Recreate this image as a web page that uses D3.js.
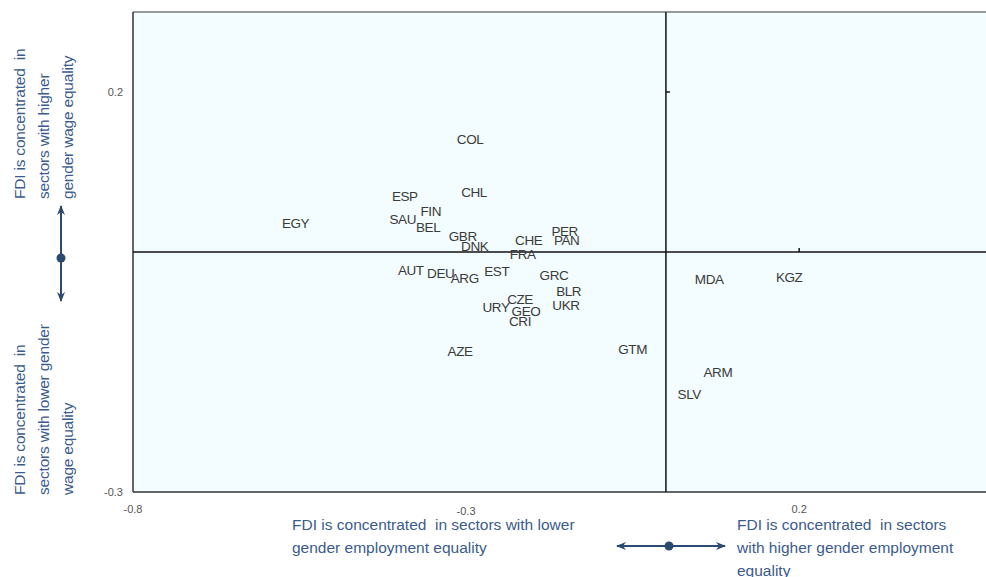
<!DOCTYPE html>
<html><head><meta charset="utf-8">
<script src="https://cdn.jsdelivr.net/npm/d3@7/dist/d3.min.js"></script>
<style>body{margin:0;background:#fff}svg{display:block}text{white-space:pre}</style>
</head><body>
<svg id="c" width="986" height="577"></svg>
<script>
const countries = ["COL","ESP","CHL","FIN","SAU","BEL","EGY","GBR","DNK","CHE","FRA","PER","PAN","AUT","DEU","ARG","EST","GRC","BLR","UKR","CZE","URY","GEO","CRI","AZE","GTM","MDA","KGZ","ARM","SLV"];
const employment = [-0.294,-0.392,-0.288,-0.353,-0.395,-0.357,-0.556,-0.305,-0.287,-0.206,-0.215,-0.152,-0.149,-0.383,-0.338,-0.302,-0.254,-0.168,-0.146,-0.150,-0.219,-0.255,-0.210,-0.219,-0.309,-0.050,0.065,0.185,0.078,0.035];
const wage = [0.141,0.070,0.075,0.051,0.041,0.031,0.036,0.020,0.0075,0.015,-0.0025,0.026,0.015,-0.0225,-0.026,-0.0325,-0.024,-0.029,-0.049,-0.066,-0.059,-0.069,-0.074,-0.086,-0.124,-0.121,-0.034,-0.031,-0.150,-0.178];
const xTicks = [-0.8,-0.3,0.2];
const yTicks = [-0.3,0.2];
const xTickLabels = ["-0.8","-0.3","0.2"];
const yTickLabels = ["-0.3","0.2"];

const svg = d3.select("#c");
const x = d3.scaleLinear().domain([-0.8,0.5]).range([133,999]);
const y = d3.scaleLinear().domain([-0.3,0.3]).range([492,12]);
const font = "'Liberation Sans', Arial, sans-serif";
const blue = "#3b5b8c";
const dark = "#2b4a6f";

// plot area
svg.append("rect").attr("x",x(-0.8)).attr("y",y(0.3)).attr("width",x(0.5)-x(-0.8)).attr("height",y(-0.3)-y(0.3))
  .attr("fill","#f3fcfe").attr("stroke","none");
// frame lines
svg.append("line").attr("x1",x(-0.8)).attr("x2",x(0.5)).attr("y1",y(0.3)).attr("y2",y(0.3)).attr("stroke","#777").attr("stroke-width",1.5);
svg.append("line").attr("x1",x(-0.8)).attr("x2",x(0.5)).attr("y1",y(-0.3)).attr("y2",y(-0.3)).attr("stroke","#333").attr("stroke-width",1.5);
svg.append("line").attr("x1",x(-0.8)).attr("x2",x(-0.8)).attr("y1",y(0.3)).attr("y2",y(-0.3)).attr("stroke","#333").attr("stroke-width",1.5);
// zero lines
svg.append("line").attr("x1",x(0)).attr("x2",x(0)).attr("y1",y(0.3)).attr("y2",y(-0.3)).attr("stroke","#111").attr("stroke-width",1.5);
svg.append("line").attr("x1",x(-0.8)).attr("x2",x(0.5)).attr("y1",y(0)).attr("y2",y(0)).attr("stroke","#111").attr("stroke-width",1.5);
// small ticks on zero lines
svg.append("line").attr("x1",x(0)).attr("x2",x(0)+4).attr("y1",y(0.2)).attr("y2",y(0.2)).attr("stroke","#111").attr("stroke-width",1.5);
svg.append("line").attr("x1",x(0.2)).attr("x2",x(0.2)).attr("y1",y(0)).attr("y2",y(0)-4).attr("stroke","#111").attr("stroke-width",1.5);

// tick labels
svg.selectAll(".xt").data(xTicks).join("text").attr("class","xt")
  .attr("x",d=>x(d)).attr("y",(d,i)=> i===1 ? 515 : 513).attr("text-anchor","middle")
  .attr("font-family",font).attr("font-size",11).attr("fill","#555").text((d,i)=>xTickLabels[i]);
svg.selectAll(".yt").data(yTicks).join("text").attr("class","yt")
  .attr("x",123).attr("y",d=>y(d)+4).attr("text-anchor","end")
  .attr("font-family",font).attr("font-size",11).attr("fill","#555").text((d,i)=>yTickLabels[i]);

// country labels
svg.selectAll(".lab").data(countries).join("text").attr("class","lab")
  .attr("x",(d,i)=>x(employment[i])).attr("y",(d,i)=>y(wage[i])).attr("dy","0.36em")
  .attr("text-anchor","middle").attr("font-family",font).attr("font-size",13.5).attr("fill","#3a3a3a")
  .attr("letter-spacing","-0.4").text(d=>d);

// bottom annotations
function lines(xp, yp, arr){
  const t = svg.append("text").attr("font-family",font).attr("font-size",15.5).attr("fill",blue);
  arr.forEach((s,i)=>t.append("tspan").attr("x",xp).attr("y",yp+i*23).text(s));
}
lines(292,530,["FDI is concentrated  in sectors with lower","gender employment equality"]);
lines(737,530,["FDI is concentrated  in sectors","with higher gender employment","equality"]);

// left rotated annotations
function vlines(yStart, arr){
  arr.forEach((s,i)=>{
    svg.append("text").attr("transform",`translate(${25+i*24},${yStart}) rotate(-90)`)
      .attr("font-family",font).attr("font-size",15.5).attr("fill",blue).attr("letter-spacing","-0.2").text(s);
  });
}
vlines(199,["FDI is concentrated  in","sectors with higher","gender wage equality"]);
vlines(495,["FDI is concentrated  in","sectors with lower gender","wage equality"]);

// arrows
const defs = svg.append("defs");
defs.append("marker").attr("id","ah").attr("viewBox","0 0 10 10").attr("refX",9).attr("refY",5)
  .attr("markerWidth",10).attr("markerHeight",10).attr("markerUnits","userSpaceOnUse").attr("orient","auto-start-reverse")
  .append("path").attr("d","M0,1 L10,5 L0,9 L3,5 Z").attr("fill",dark);
svg.append("line").attr("x1",617).attr("x2",725).attr("y1",546).attr("y2",546)
  .attr("stroke",dark).attr("stroke-width",2).attr("marker-start","url(#ah)").attr("marker-end","url(#ah)");
svg.append("circle").attr("cx",669).attr("cy",546).attr("r",4.5).attr("fill",dark);
svg.append("line").attr("x1",61).attr("x2",61).attr("y1",206).attr("y2",301)
  .attr("stroke",dark).attr("stroke-width",2).attr("marker-start","url(#ah)").attr("marker-end","url(#ah)");
svg.append("circle").attr("cx",61).attr("cy",258).attr("r",4.5).attr("fill",dark);
</script>
</body></html>
